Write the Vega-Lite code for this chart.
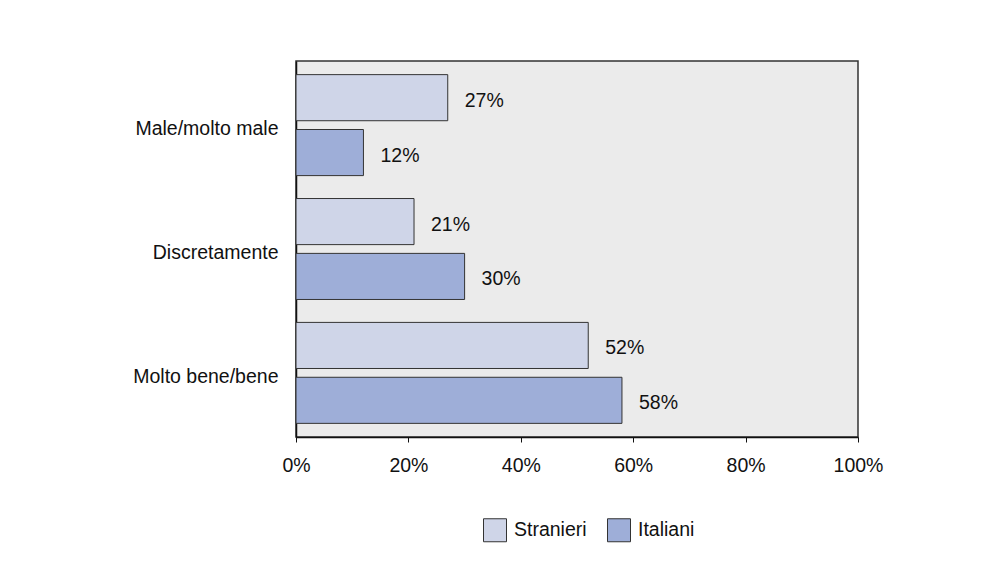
{
  "$schema": "https://vega.github.io/schema/vega-lite/v6.json",
  "autosize": {"type": "none"},
  "padding": {"left": 296, "top": 61, "right": 133, "bottom": 131},
  "width": 562,
  "height": 376,
  "background": "white",
  "data": {
    "values": [
      {"cat": "Male/molto male", "series": "Stranieri", "v": 0.27},
      {"cat": "Male/molto male", "series": "Italiani", "v": 0.12},
      {"cat": "Discretamente", "series": "Stranieri", "v": 0.21},
      {"cat": "Discretamente", "series": "Italiani", "v": 0.30},
      {"cat": "Molto bene/bene", "series": "Stranieri", "v": 0.52},
      {"cat": "Molto bene/bene", "series": "Italiani", "v": 0.58}
    ]
  },
  "encoding": {
    "y": {
      "field": "cat", "type": "nominal",
      "sort": ["Male/molto male", "Discretamente", "Molto bene/bene"],
      "scale": {"paddingInner": 0.185, "paddingOuter": 0.11},
      "axis": {"title": null, "ticks": false, "domain": true, "domainColor": "#111", "domainWidth": 1.5, "labelPadding": 18, "labelOffset": 4, "labelFontSize": 19.5, "labelFont": "Liberation Sans", "labelColor": "#111"}
    },
    "yOffset": {
      "field": "series", "type": "nominal",
      "sort": ["Stranieri", "Italiani"],
      "scale": {"paddingInner": 0.16, "paddingOuter": 0}
    }
  },
  "layer": [
    {
      "mark": {"type": "bar", "stroke": "#333", "strokeWidth": 1},
      "encoding": {
        "x": {
          "field": "v", "type": "quantitative",
          "scale": {"domain": [0, 1], "nice": false},
          "axis": {"title": null, "format": ".0%", "values": [0, 0.2, 0.4, 0.6, 0.8, 1], "grid": false, "labelFlush": false, "domainColor": "#111", "domainWidth": 1.5, "tickColor": "#111", "tickSize": 5, "labelPadding": 14, "labelFontSize": 19.5, "labelFont": "Liberation Sans", "labelColor": "#111"}
        },
        "fill": {
          "field": "series", "type": "nominal",
          "sort": ["Stranieri", "Italiani"],
          "scale": {"domain": ["Stranieri", "Italiani"], "range": ["#cfd5e8", "#9eaed8"]},
          "legend": {
            "title": null, "orient": "none", "direction": "horizontal",
            "legendX": 187, "legendY": 457,
            "symbolType": "square", "symbolSize": 529, "symbolStrokeColor": "#333", "symbolStrokeWidth": 1,
            "labelFontSize": 19.5, "labelFont": "Liberation Sans", "labelColor": "#111",
            "labelOffset": 7, "columnPadding": 18
          }
        }
      }
    },
    {
      "mark": {"type": "text", "align": "left", "baseline": "middle", "dx": 17, "dy": 3, "fontSize": 19.5, "font": "Liberation Sans", "color": "#111"},
      "encoding": {
        "x": {"field": "v", "type": "quantitative"},
        "text": {"field": "v", "type": "quantitative", "format": ".0%"}
      }
    }
  ],
  "config": {
    "view": {"fill": "#ebebeb", "stroke": "#333", "strokeWidth": 1.5}
  }
}
